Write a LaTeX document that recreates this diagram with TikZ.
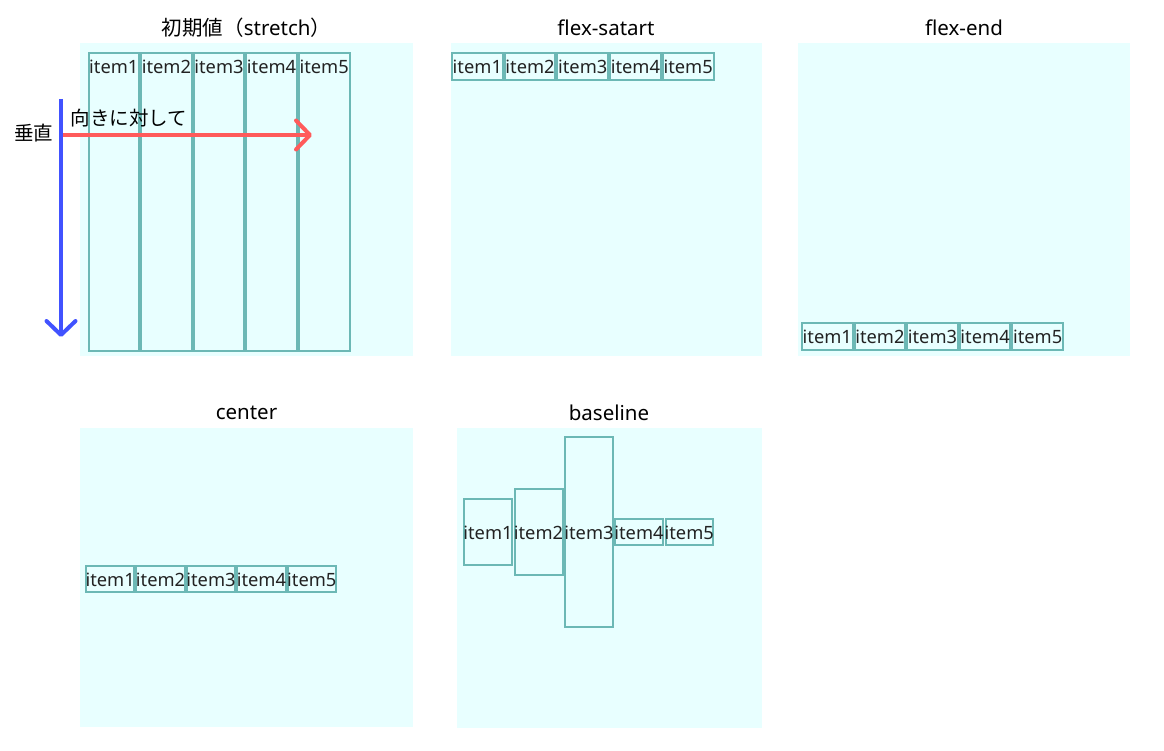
\documentclass[tikz,border=0pt]{standalone}
\usepackage{fontspec}
\setmainfont{Noto Sans}
\newfontfamily\cjk{Noto Sans CJK JP}
\usetikzlibrary{arrows.meta}
\definecolor{bgc}{HTML}{E8FFFF}
\definecolor{itemc}{HTML}{6CB8B5}
\definecolor{bluec}{HTML}{4152FF}
\definecolor{redc}{HTML}{FF5B5B}
\definecolor{txtc}{HTML}{222222}
\tikzset{
  panel/.style={fill=bgc, draw=none},
  itembox/.style={draw=itemc, line width=2pt, rectangle, inner sep=0pt},
  itemtext/.style={text=txtc, inner sep=0pt, font=\fontsize{18.3}{19}\selectfont},
  ttl/.style={text=black, inner sep=0pt, font=\fontsize{20.5}{22}\selectfont},
  jlabel/.style={text=black, inner sep=0pt, font=\fontsize{19.5}{22}\selectfont\cjk},
  arr/.style={line width=4pt, -{Straight Barb[length=14pt,width=29pt,line cap=round,line join=round]}}
}
% #1 prefix, #2 x0, #3 pitch, #4 ytop, #5 ybottom, #6 text y
\newcommand\itemrow[6]{%
  \foreach \i in {1,...,5}{%
    \pgfmathsetmacro\cx{#2+(\i-0.5)*#3}%
    \pgfmathsetmacro\cy{(#4+#5)/2}%
    \pgfmathsetmacro\iw{#3-2}%
    \pgfmathsetmacro\ih{#5-#4-2}%
    \node[itembox, minimum width=\iw pt, minimum height=\ih pt] (#1\i) at (\cx,\cy) {};
    \node[itemtext] (#1t\i) at (\cx,#6) {item\i};
  }%
}
\newcommand\oneitem[6]{% #1 name, #2 x0, #3 x1, #4 ytop, #5 ybot, #6 label
  \pgfmathsetmacro\cx{(#2+#3)/2}%
  \pgfmathsetmacro\cy{(#4+#5)/2}%
  \pgfmathsetmacro\iw{#3-#2-2}%
  \pgfmathsetmacro\ih{#5-#4-2}%
  \node[itembox, minimum width=\iw pt, minimum height=\ih pt] (#1) at (\cx,\cy) {};
  \node[itemtext] (#1t) at (\cx,532.5) {#6};
}
\begin{document}
\begin{tikzpicture}[x=1pt,y=-1pt]
\useasboundingbox (0,0) rectangle (1164,751);
% panels
\fill[panel] (80,43) rectangle (413,355.5);
\fill[panel] (451,43) rectangle (761.5,355.5);
\fill[panel] (798,43) rectangle (1130,355.5);
\fill[panel] (80,428) rectangle (413,726.5);
\fill[panel] (457,428) rectangle (761.5,727.5);
% titles
\node[ttl] (t1) at (246.5,27.5) {{\cjk 初期値（}stretch{\cjk ）}};
\node[ttl] (t2) at (606,28) {flex-satart};
\node[ttl] (t3) at (964,28) {flex-end};
\node[ttl] (t4) at (246.5,413) {center};
\node[ttl] (t5) at (609,413) {baseline};
% rows
\itemrow{a}{87.5}{52.6}{52}{352}{67}
\itemrow{b}{451}{52.7}{52}{81}{67}
\itemrow{c}{801}{52.6}{322}{351}{337}
\itemrow{d}{85}{50.4}{565}{593}{579.5}
% baseline
\oneitem{e1}{463}{513}{498}{566}{item1}
\oneitem{e2}{513.5}{563.5}{488}{576}{item2}
\oneitem{e3}{564}{614}{436}{628}{item3}
\oneitem{e4}{614}{664}{518}{546}{item4}
\oneitem{e5}{664.5}{714}{518}{546}{item5}
% axes
\coordinate (vs) at (61,99);
\coordinate (ve) at (61,337);
\coordinate (hs) at (63,135);
\coordinate (he) at (312,135);
\draw[arr, bluec] (vs) -- (ve);
\draw[arr, redc] (hs) -- (he);
\node[jlabel] (lv) at (33.5,133) {垂直};
\node[jlabel] (lh) at (129,118) {向きに対して};
\end{tikzpicture}
\end{document}
